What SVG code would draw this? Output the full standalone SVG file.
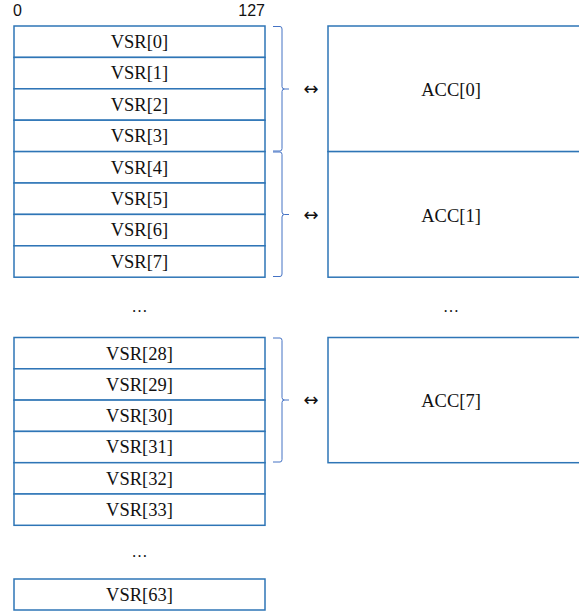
<svg xmlns="http://www.w3.org/2000/svg" width="579" height="612" viewBox="0 0 579 612">
  <style>
    .box { fill: #ffffff; stroke: #2E75B6; stroke-width: 1.5; }
    .lbl { font-family: "Liberation Serif", "DejaVu Serif", serif; font-size: 18.5px; fill: #111111; text-anchor: middle; }
    .bit { font-family: "Liberation Sans", "Open Sans", sans-serif; font-size: 16px; fill: #111111; }
    .brace { fill: none; stroke: #4472C4; stroke-width: 1; }
    .arr { font-family: "DejaVu Sans", sans-serif; font-size: 18px; fill: #111111; text-anchor: middle; }
    .dots { font-family: "Liberation Serif", serif; font-size: 16px; fill: #111111; text-anchor: middle; }
  </style>

  <!-- bit numbering -->
  <text class="bit" x="13" y="16">0</text>
  <text class="bit" x="265" y="16" text-anchor="end">127</text>

  <!-- VSR registers 0..7 -->
  <g id="vsr0"><rect class="box" x="14" y="26" width="251" height="31.4"/><text class="lbl" x="139.5" y="48">VSR[0]</text></g>
  <g id="vsr1"><rect class="box" x="14" y="57.4" width="251" height="31.4"/><text class="lbl" x="139.5" y="79.4">VSR[1]</text></g>
  <g id="vsr2"><rect class="box" x="14" y="88.8" width="251" height="31.4"/><text class="lbl" x="139.5" y="110.8">VSR[2]</text></g>
  <g id="vsr3"><rect class="box" x="14" y="120.2" width="251" height="31.4"/><text class="lbl" x="139.5" y="142.2">VSR[3]</text></g>
  <g id="vsr4"><rect class="box" x="14" y="151.6" width="251" height="31.4"/><text class="lbl" x="139.5" y="173.6">VSR[4]</text></g>
  <g id="vsr5"><rect class="box" x="14" y="183" width="251" height="31.4"/><text class="lbl" x="139.5" y="205">VSR[5]</text></g>
  <g id="vsr6"><rect class="box" x="14" y="214.4" width="251" height="31.4"/><text class="lbl" x="139.5" y="236.4">VSR[6]</text></g>
  <g id="vsr7"><rect class="box" x="14" y="245.8" width="251" height="31.4"/><text class="lbl" x="139.5" y="267.8">VSR[7]</text></g>

  <text class="dots" x="139.5" y="312">…</text>

  <!-- VSR registers 28..33 -->
  <g id="vsr28"><rect class="box" x="14" y="337.5" width="251" height="31.3"/><text class="lbl" x="139.5" y="359.5">VSR[28]</text></g>
  <g id="vsr29"><rect class="box" x="14" y="368.8" width="251" height="31.3"/><text class="lbl" x="139.5" y="390.8">VSR[29]</text></g>
  <g id="vsr30"><rect class="box" x="14" y="400.1" width="251" height="31.3"/><text class="lbl" x="139.5" y="422.1">VSR[30]</text></g>
  <g id="vsr31"><rect class="box" x="14" y="431.4" width="251" height="31.3"/><text class="lbl" x="139.5" y="453.4">VSR[31]</text></g>
  <g id="vsr32"><rect class="box" x="14" y="462.7" width="251" height="31.3"/><text class="lbl" x="139.5" y="484.7">VSR[32]</text></g>
  <g id="vsr33"><rect class="box" x="14" y="494" width="251" height="31.3"/><text class="lbl" x="139.5" y="516">VSR[33]</text></g>

  <text class="dots" x="139.5" y="557">…</text>

  <g id="vsr63"><rect class="box" x="14" y="579" width="251" height="31"/><text class="lbl" x="139.5" y="601">VSR[63]</text></g>

  <!-- accumulators -->
  <g id="acc0"><rect class="box" x="328" y="26" width="260" height="125.6"/><text class="lbl" x="451" y="96">ACC[0]</text></g>
  <g id="acc1"><rect class="box" x="328" y="151.6" width="260" height="125.6"/><text class="lbl" x="451" y="222">ACC[1]</text></g>

  <text class="dots" x="451" y="312">…</text>

  <g id="acc7"><rect class="box" x="328" y="337.5" width="260" height="125.2"/><text class="lbl" x="451" y="407">ACC[7]</text></g>

  <!-- connectors: braces grouping four VSRs per accumulator -->
  <g id="connectors">
    <path class="brace" d="M273,26.5 H280 Q282,26.5 282,29 V86.5 Q282,89 284.5,89 H289 M284.5,89 Q282,89 282,91.5 V148.5 Q282,151 280,151 H273"/>
    <path class="brace" d="M273,152 H280 Q282,152 282,154.5 V212 Q282,214.5 284.5,214.5 H289 M284.5,214.5 Q282,214.5 282,217 V274 Q282,276.5 280,276.5 H273"/>
    <path class="brace" d="M273,338 H280 Q282,338 282,340.5 V397.5 Q282,400 284.5,400 H289 M284.5,400 Q282,400 282,402.5 V459.5 Q282,462 280,462 H273"/>
    <text class="arr" x="311" y="95">↔</text>
    <text class="arr" x="311" y="220.5">↔</text>
    <text class="arr" x="311" y="406">↔</text>
  </g>
</svg>
